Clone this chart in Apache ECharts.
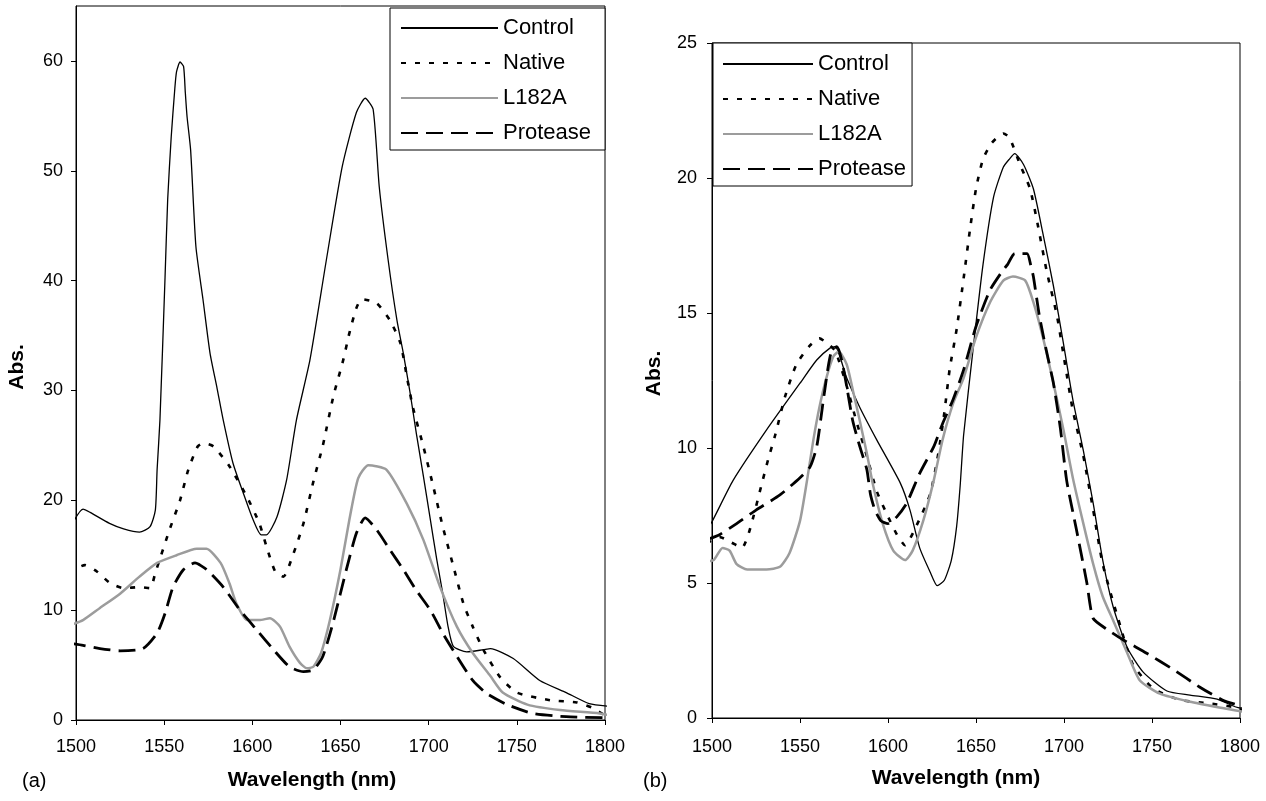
<!DOCTYPE html>
<html>
<head>
<meta charset="utf-8">
<script src="https://cdn.jsdelivr.net/npm/echarts@6/dist/echarts.min.js"></script>
<style>
html,body{margin:0;padding:0;background:#fff;}
#chart{width:1266px;height:801px;}
</style>
</head>
<body>
<div id="chart"></div>
<script>
// ---------- Tick labels ----------
const xTicks = [1500, 1550, 1600, 1650, 1700, 1750, 1800];
const yTicksA = [0, 10, 20, 30, 40, 50, 60];
const yTicksB = [0, 5, 10, 15, 20, 25];
const seriesNames = ['Control', 'Native', 'L182A', 'Protease'];

// ---------- Panel (a) ----------
const aControlX = [1496,1504,1508,1519,1527,1536,1542,1545,1546,1547.6,1550.5,1552,1554,1556,1557,1559,1561,1562,1563,1565,1568,1572,1576,1580,1583.5,1589,1595,1600.5,1605,1608,1614,1619.5,1625,1632.7,1642,1651,1659,1664,1668.5,1672,1677,1682,1685.6,1689.5,1693,1697,1701,1704.6,1708,1711,1714,1721.6,1731,1735,1748,1763,1778,1791,1806];
const aControlY = [17.3,19.2,18.9,17.9,17.4,17.1,17.6,19.1,22.8,27.3,40.3,47.4,53.1,57.4,59.0,59.9,59.5,57.1,54.9,51.9,43.1,38.3,33.4,30.2,27.3,23.4,20.6,18.2,16.85,16.85,18.5,21.9,27.3,32.8,41.9,50.4,55.3,56.6,55.6,48.5,41.9,36.4,33.4,29.75,26.1,22.2,18.2,14.6,11.5,8.5,6.7,6.2,6.4,6.5,5.6,3.6,2.5,1.5,1.2];

const aNativeX = [1496,1505,1512,1519,1527,1536,1542,1545,1553,1559,1563.7,1569,1572.2,1578,1587,1597,1604,1608,1613,1617.6,1623,1629,1634.6,1640,1646,1651.6,1655,1659,1662,1670.5,1678,1684,1687.6,1691,1697,1702.7,1708,1714,1719.7,1725,1731,1740.5,1750,1769,1784,1793,1801];
const aNativeY = [13.4,14.1,13.5,12.5,12.0,12.1,12.0,13.4,17.3,20.0,22.8,24.9,25.2,24.9,23.1,20.3,17.9,15.8,13.5,13.05,15.0,17.9,21.7,25.0,29.5,32.8,35.2,37.5,38.3,37.95,36.4,34.3,31.3,28.5,24.9,21.2,17.6,14.0,10.6,8.5,6.4,3.9,2.5,1.8,1.6,1.1,0.3];

const aL182AX = [1496,1504,1513.6,1525,1536,1546,1557,1568.5,1574,1582,1587,1591,1597,1604,1610,1615.7,1621,1627,1631,1634.6,1639,1644,1650,1655,1660,1665.8,1676,1687.6,1697,1706.5,1716,1725,1735,1742,1756,1774.5,1797,1806];
const aL182AY = [8.6,9.1,10.2,11.5,13.05,14.3,15.0,15.6,15.6,14.3,12.45,10.6,9.1,9.1,9.26,8.5,6.7,5.2,4.7,4.85,6.1,9.1,13.7,18.2,22.0,23.2,22.8,19.7,16.4,12.1,8.5,6.1,4.0,2.5,1.4,0.9,0.6,0.3];

const aProteaseX = [1496,1504,1513.6,1525,1538,1546,1550.5,1555,1561,1567.5,1574,1583.5,1593,1602.5,1612,1621,1629,1634.6,1640,1646,1653.5,1659,1664,1670.6,1678,1685.6,1693,1701,1708,1716,1725,1733,1744.5,1759,1778,1801];
const aProteaseY = [7.0,6.8,6.5,6.3,6.5,7.9,9.7,12.1,13.7,14.3,13.7,12.1,10.0,8.2,6.4,4.85,4.4,4.55,5.8,9.0,13.8,17.0,18.4,17.3,15.5,13.7,11.8,10.0,7.9,5.8,3.6,2.4,1.4,0.6,0.3,0.2];

// ---------- Panel (b) ----------
const bControlX = [1497,1500,1512,1531,1550,1559.5,1567,1570,1576.5,1584,1593.6,1607,1612.5,1618,1624,1628,1632,1636,1639,1641,1643,1648.5,1654,1660,1665.5,1669,1672,1677,1682.6,1688,1694,1699.6,1705,1711,1716.6,1722,1728,1736,1745,1758.5,1771.6,1787,1800,1805];
const bControlY = [7.0,7.27,8.8,10.67,12.4,13.26,13.7,13.75,12.6,11.5,10.3,8.7,7.7,6.3,5.4,4.9,5.1,5.85,7.1,8.6,10.5,13.75,16.8,19.3,20.4,20.7,20.9,20.5,19.6,17.95,16.0,13.9,11.8,9.9,7.95,5.85,4.1,2.6,1.7,1.0,0.85,0.7,0.37,0.37];

const bNativeX = [1497,1504.5,1511,1517,1521.6,1528,1532,1536,1541.5,1548,1555.7,1561,1565,1570,1576.5,1582,1588,1593.6,1599,1605,1609.7,1616,1624,1628.6,1632,1635,1639,1643,1646.6,1650,1654,1659,1665.5,1669,1675,1680.7,1685,1690,1696,1700.6,1705,1711,1716.6,1722,1732,1739,1750.6,1766,1781,1796,1804.5];
const bNativeY = [6.47,6.7,6.5,6.3,7.0,8.6,9.6,10.5,11.9,13.1,13.8,14.06,13.9,13.6,12.3,11.0,9.7,8.4,7.6,6.8,6.4,7.1,8.3,9.8,11.3,12.9,14.4,16.3,18.1,19.6,20.7,21.3,21.65,21.5,20.5,19.6,18.3,16.6,14.9,13.1,11.4,9.7,7.7,5.7,3.4,2.0,1.1,0.67,0.55,0.41,0.2];

const bL182AX = [1496,1501,1506,1510,1514,1520,1531,1538.6,1544,1550,1554,1557.6,1561,1565,1569,1572,1576.5,1580,1584,1588,1591.6,1597,1603,1609.7,1614,1620,1626,1631,1637,1643,1650,1658,1665.5,1671,1678,1682.6,1688,1694,1699.6,1705,1711,1716.6,1722,1728,1736,1743,1754.5,1771.6,1790,1804.5];
const bL182AY = [5.8,5.85,6.3,6.2,5.7,5.5,5.5,5.6,6.1,7.3,8.8,10.3,11.5,12.6,13.4,13.57,13.1,12.15,11.0,9.8,8.6,7.2,6.2,5.85,6.2,7.3,8.8,10.3,11.65,12.6,14.1,15.4,16.2,16.35,16.2,15.4,14.1,12.4,10.7,8.9,7.2,5.7,4.5,3.6,2.4,1.4,0.9,0.6,0.37,0.2];

const bProteaseX = [1497,1504.5,1514,1525,1538.6,1550,1555.7,1559.5,1563,1566,1568,1571,1573.7,1576.5,1580,1584,1588,1590,1592.6,1596,1600,1605,1610.6,1618,1626,1631,1637,1643,1650,1658,1665.5,1668,1672,1679,1681,1682.6,1686,1690,1694,1698,1701.5,1707,1713,1716.5,1724,1733.5,1747,1762,1777,1790,1804];
const bProteaseY = [6.6,6.8,7.2,7.7,8.26,8.9,9.3,10.05,11.65,13.0,13.6,13.75,13.26,12.3,11.0,10.05,9.2,8.3,7.7,7.3,7.2,7.45,7.95,9.06,10.05,10.9,11.8,12.9,14.5,15.85,16.6,16.8,17.2,17.2,16.8,16.35,14.9,13.6,12.4,10.7,8.8,7.0,5.0,3.7,3.3,2.9,2.4,1.8,1.15,0.67,0.37];

// ---------- Build ----------
const FONT = '"Liberation Sans", Arial, sans-serif';
function zip(xs, ys) { return xs.map((x, i) => [x, ys[i]]); }

const styles = {
  Control:  { color: '#000', width: 1.3, type: 'solid' },
  Native:   { color: '#000', width: 2.6, type: [5, 9] },
  L182A:    { color: '#9c9c9c', width: 2.5, type: 'solid' },
  Protease: { color: '#000', width: 2.8, type: [17, 8] }
};

function mkSeries(name, xs, ys, idx) {
  const s = styles[name];
  return {
    name: name, type: 'line', xAxisIndex: idx, yAxisIndex: idx,
    data: zip(xs, ys), showSymbol: false, symbol: 'none', clip: false,
    smooth: 0.2,
    lineStyle: { color: s.color, width: s.width, type: s.type, cap: 'butt', join: 'round' },
    itemStyle: { color: s.color },
    emphasis: { disabled: true }
  };
}

function plain(v) { return String(v); }

function mkXAxis(idx, margin, shift) {
  return {
    gridIndex: idx, type: 'value', min: 1500, max: 1800, interval: 50,
    axisLine: { show: true, onZero: false, lineStyle: { color: '#000', width: 1 } },
    axisTick: { show: true, length: 5, lineStyle: { color: '#000' }, customValues: xTicks },
    axisLabel: { color: '#000', fontSize: 18, fontFamily: FONT, margin: margin, customValues: xTicks, formatter: plain },
    splitLine: { show: false },
    name: 'Wavelength (nm)', nameLocation: 'middle', nameGap: 50,
    nameTextStyle: { color: '#000', fontSize: 21, fontWeight: 'bold', fontFamily: FONT, padding: [0, shift, 0, 0] }
  };
}
function mkYAxis(idx, max, interval, ticks, margin, gap, pad) {
  return {
    gridIndex: idx, type: 'value', min: 0, max: max, interval: interval,
    axisLine: { show: true, onZero: false, lineStyle: { color: '#000', width: 1 } },
    axisTick: { show: true, length: 5, lineStyle: { color: '#000' }, customValues: ticks },
    axisLabel: { color: '#000', fontSize: 18, fontFamily: FONT, margin: margin, customValues: ticks, formatter: plain },
    splitLine: { show: false },
    name: 'Abs.', nameLocation: 'middle', nameGap: gap,
    nameTextStyle: { color: '#000', fontSize: 21, fontWeight: 'bold', fontFamily: FONT, padding: pad }
  };
}
function mkLegend(left, top, iw, pad) {
  return {
    data: seriesNames, orient: 'vertical', left: left, top: top,
    itemWidth: iw, itemHeight: 14, itemGap: 13,
    padding: pad, backgroundColor: '#fff', borderColor: '#000', borderWidth: 1, borderRadius: 0,
    itemStyle: { opacity: 0, borderWidth: 0 },
    textStyle: { color: '#000', fontSize: 22, fontFamily: FONT, lineHeight: 22 },
    selectedMode: false, inactiveColor: '#000'
  };
}

const option = {
  animation: false,
  backgroundColor: '#fff',
  grid: [
    { left: 76, top: 6, width: 529, height: 714, show: true, borderColor: '#000', borderWidth: 1, backgroundColor: 'transparent' },
    { left: 712, top: 43, width: 528, height: 675, show: true, borderColor: '#000', borderWidth: 1, backgroundColor: 'transparent' }
  ],
  xAxis: [ mkXAxis(0, 18, 57), mkXAxis(1, 20, 40) ],
  yAxis: [ mkYAxis(0, 65, 10, yTicksA, 13, 48, [0, 8, 0, 0]), mkYAxis(1, 25, 5, yTicksB, 15, 47, [0, 0, 0, 14]) ],
  legend: [ mkLegend(390, 8, 97, [9, 14, 6, 10]), mkLegend(713, 43, 90, [10, 6, 6, 9]) ],
  graphic: [
    { type: 'text', left: 22, top: 771, style: { text: '(a)', fontSize: 20, fontFamily: FONT, fill: '#000' } },
    { type: 'text', left: 643, top: 771, style: { text: '(b)', fontSize: 20, fontFamily: FONT, fill: '#000' } }
  ],
  series: [
    mkSeries('Control', aControlX, aControlY, 0),
    mkSeries('Native', aNativeX, aNativeY, 0),
    mkSeries('L182A', aL182AX, aL182AY, 0),
    mkSeries('Protease', aProteaseX, aProteaseY, 0),
    mkSeries('Control', bControlX, bControlY, 1),
    mkSeries('Native', bNativeX, bNativeY, 1),
    mkSeries('L182A', bL182AX, bL182AY, 1),
    mkSeries('Protease', bProteaseX, bProteaseY, 1)
  ]
};
const chart = echarts.init(document.getElementById('chart'), null, { renderer: 'canvas' });
chart.setOption(option);
</script>
</body>
</html>
